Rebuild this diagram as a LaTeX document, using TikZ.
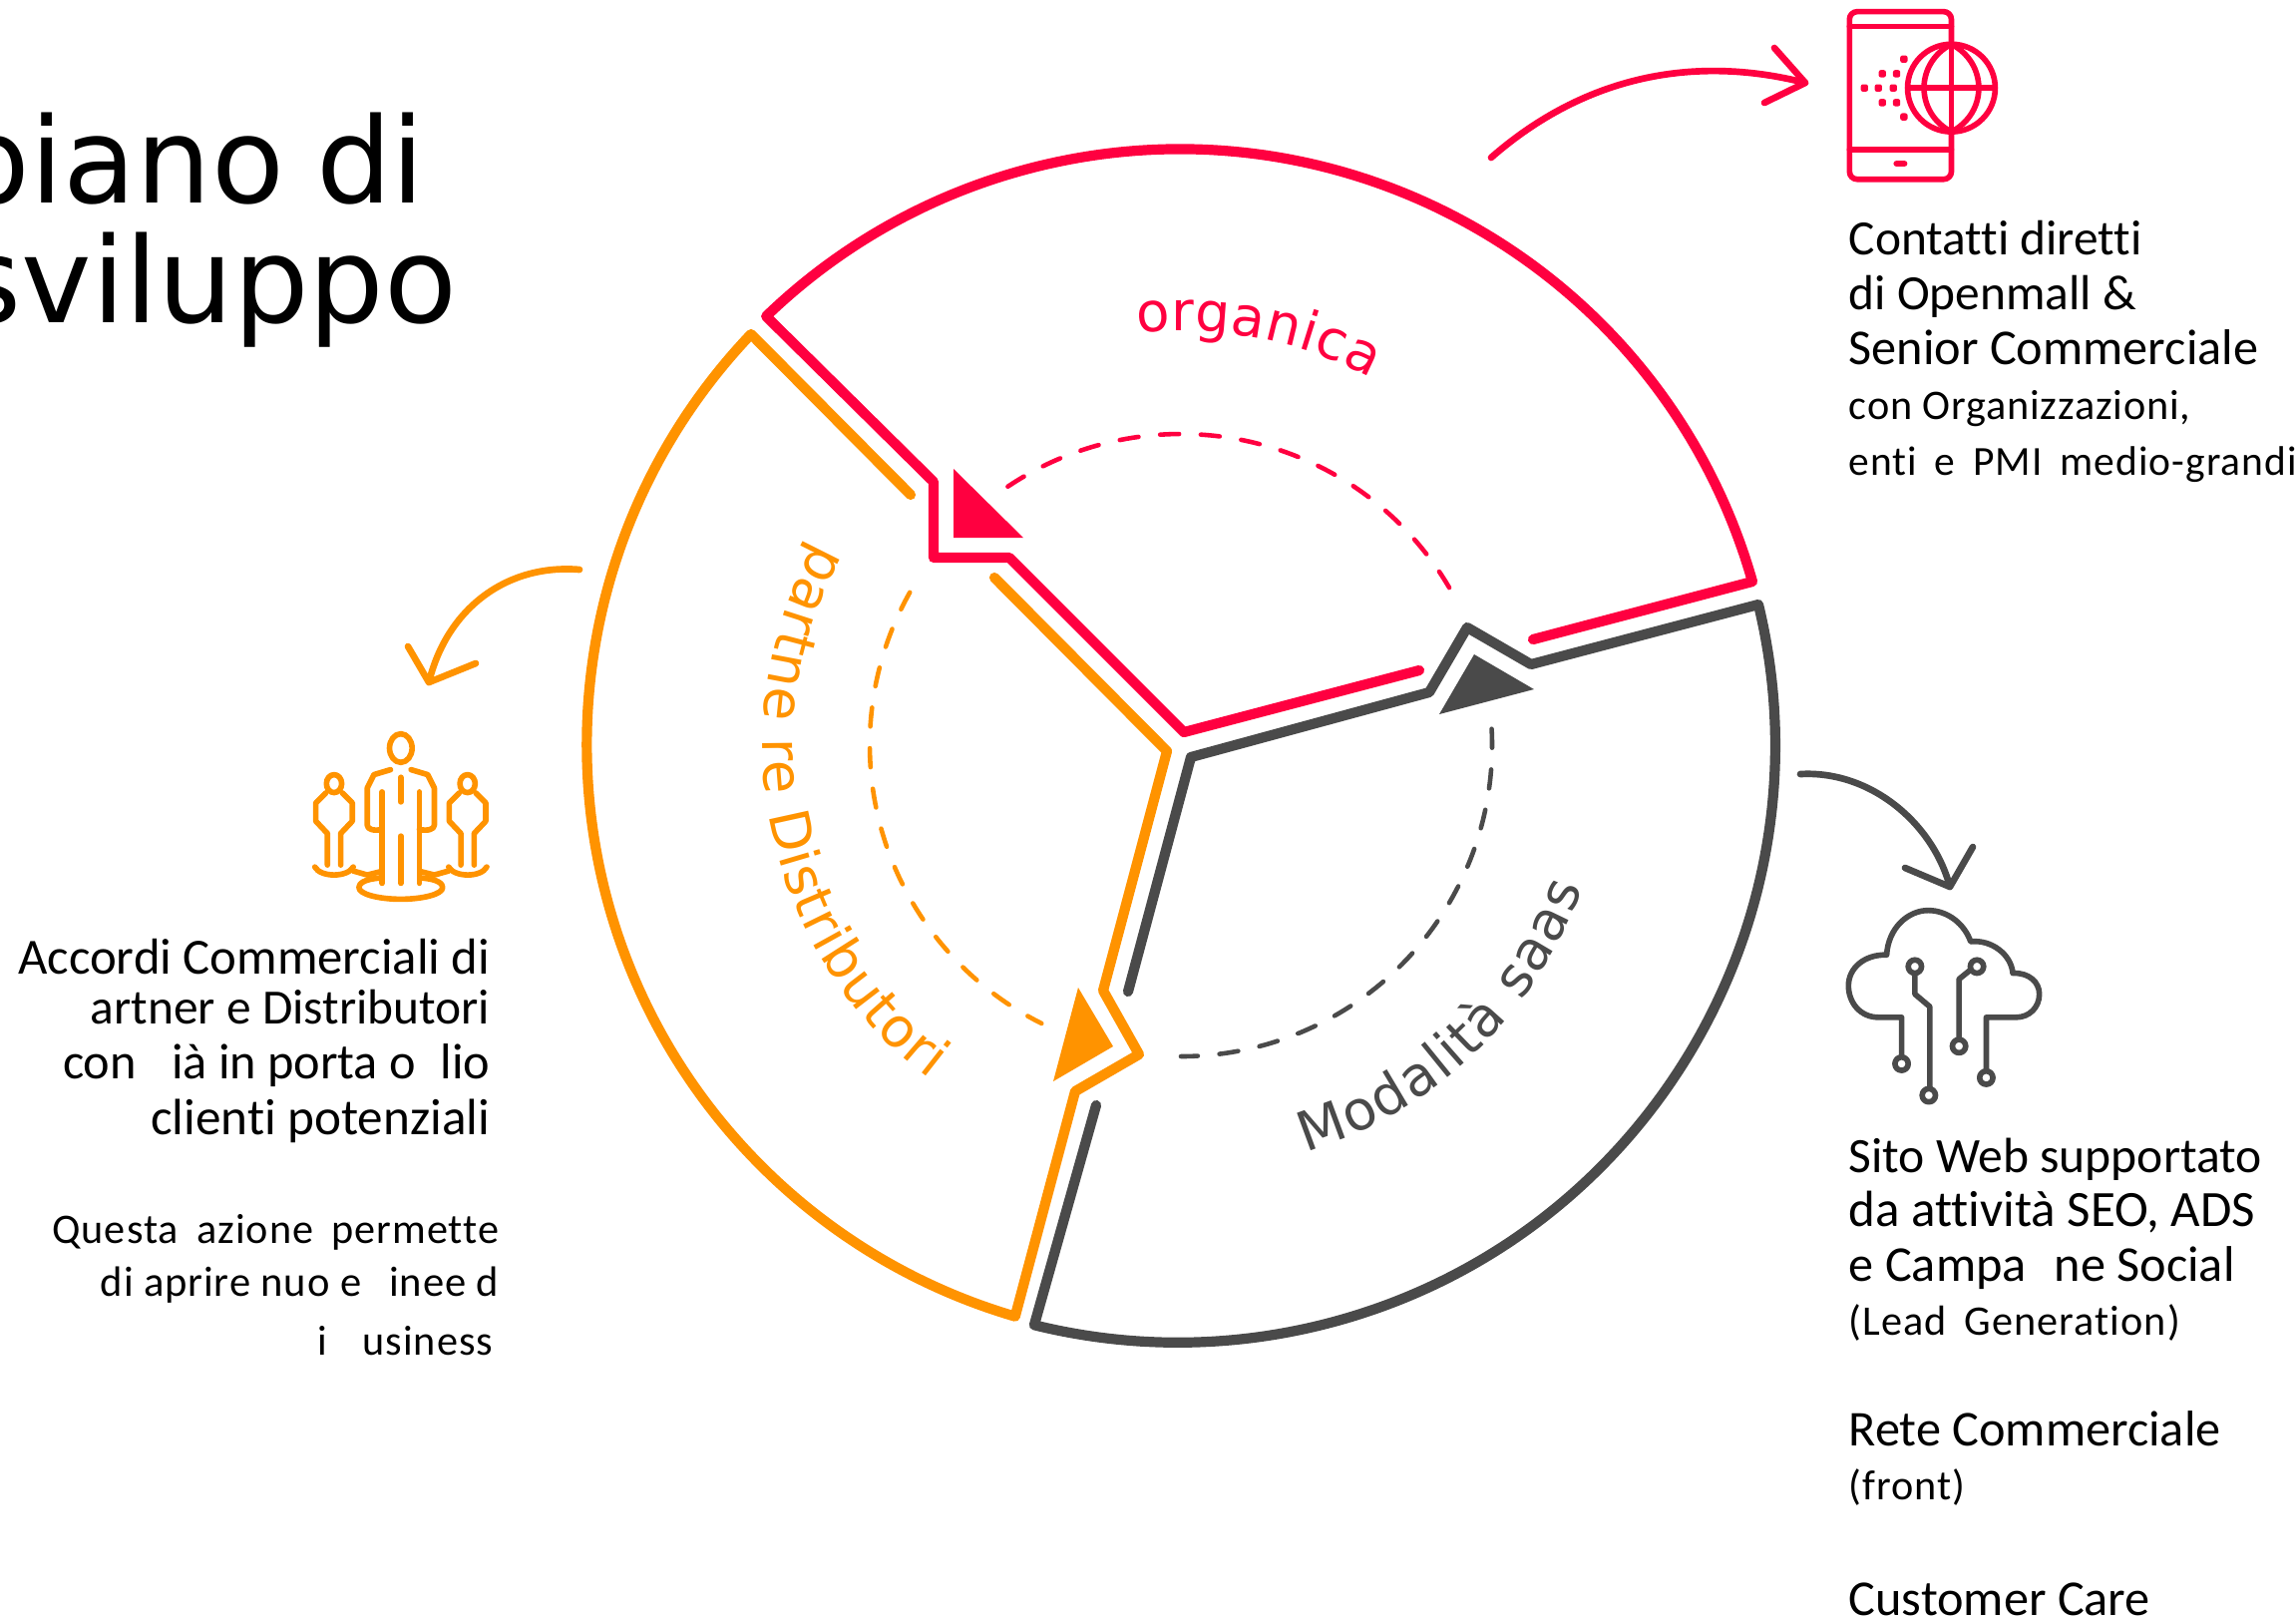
\documentclass[tikz,border=0pt]{standalone}
\usepackage{fontspec}
\usetikzlibrary{decorations.text,calc}
\setmainfont[Ligatures=NoCommon]{Carlito}
\newfontfamily\dejavu{DejaVu Sans}
\newfontfamily\carlsp[LetterSpace=2.5,WordSpace=1.7,Ligatures=NoCommon]{Carlito}
\newfontfamily\carltight[LetterSpace=2,WordSpace=1,Ligatures=NoCommon]{Carlito}
\definecolor{ored}{HTML}{FF0040}
\definecolor{oorange}{HTML}{FF9300}
\definecolor{ogray}{HTML}{4A4A4A}
\newcommand{\gapx}[1]{\hspace{#1pt}}
\newcommand{\bigsize}[1]{\fontsize{#1}{17}\selectfont}
\tikzset{
  sector/.style={line width=2.9pt,line join=round,line cap=round},
  dasharc/.style={line width=1.3pt,line cap=round,dash pattern=on 5.4pt off 6.2pt},
  sweep/.style={line width=1.9pt,line cap=round,line join=round},
  big/.style={inner sep=0pt,font=\bigsize{14.3},text=black},
  small/.style={inner sep=0pt,font=\carlsp\fontsize{12}{15}\selectfont,text=black},
  smalltight/.style={inner sep=0pt,font=\carltight\fontsize{12}{15}\selectfont,text=black},
  title/.style={inner sep=0pt,font=\dejavu\fontsize{33.9}{40}\selectfont,text=black},
  icon/.style={line width=1.6pt,line cap=round,line join=round},
  zoomed/.style={x=0.0033333cm,y=-0.0033333cm}
}
\begin{document}
\begin{tikzpicture}[x=0.01cm,y=-0.01cm]
\useasboundingbox (0,0) rectangle (2302,1623);
\coordinate (c) at (1184,747);
% Red sector
\draw[sector,ored] (1537,641) -- (1757,583) arc[start angle=-15.9,end angle=-134,radius=597] -- (936,483) -- (936,559) -- (1012,559) -- (1187,734) -- (1423,672);
% Orange sector
\draw[sector,oorange] (913,496) -- (753,335) arc[start angle=223.6,end angle=106.3,radius=597] -- (1078,1094) -- (1142,1057) -- (1106,993) -- (1170,753) -- (997,579);
% Gray sector
\draw[sector,ogray] (1131,994) -- (1194,759) -- (1433,694) -- (1471,629) -- (1535,666) -- (1763,606) arc[start angle=-13.6,end angle=103.9,radius=599] -- (1099,1108);
% Triangles
\fill[ored] (956,470) -- (956,539) -- (1026,539) -- cycle;
\fill[ogray] (1478,656) -- (1443,716) -- (1538,691) -- cycle;
\fill[oorange] (1081,990) -- (1116,1049) -- (1056,1084) -- cycle;
% Dashed arcs
\draw[dasharc,ored] ($(c)+(-123.8:312)$) arc[start angle=-123.8,end angle=-29.7,radius=312];
\draw[dasharc,oorange] ($(c)+(209.4:312)$) arc[start angle=209.4,end angle=116.6,radius=312];
\draw[dasharc,ogray] ($(c)+(-3:312)$) arc[start angle=-3,end angle=90,radius=312];
% Curved labels
\path[decorate,decoration={text along path,text align=fit to path,text={|\dejavu\fontsize{15.6}{18}\selectfont\color{ored}|organica}}] ($(c)+(-96:415)$) arc[start angle=-96,end angle=-62.6,radius=415];
\path[decorate,decoration={text along path,text align=fit to path,text={|\dejavu\fontsize{15.6}{18}\selectfont\color{ogray}|Modalità saas}}] ($(c)+(73:427)$) arc[start angle=73,end angle=19.5,radius=427];
\path[decorate,decoration={text along path,text align=fit to path,text={|\dejavu\fontsize{15.6}{18}\selectfont\color{oorange}|partne re Distributori}}] ($(c)+(209:419)$) arc[start angle=209,end angle=127,radius=419];
% Sweep arrows
\coordinate (rs) at (1495,158); \coordinate (rt) at (1810,83);
\coordinate (ra) at (1779,48); \coordinate (rb) at (1769,103);
\draw[sweep,ored] (rs) .. controls (1590,75) and (1700,55) .. (rt);
\draw[sweep,ored] (ra) -- (rt) -- (rb);
\coordinate (os) at (581,571); \coordinate (ot) at (430,684);
\coordinate (oa) at (409,648); \coordinate (ob) at (477,665);
\draw[sweep,oorange] (os) .. controls (508,565) and (448,610) .. (ot);
\draw[sweep,oorange] (oa) -- (ot) -- (ob);
\coordinate (gs) at (1805,776); \coordinate (gt) at (1955,889);
\coordinate (ga) at (1910,870); \coordinate (gb) at (1978,849);
\draw[sweep,ogray] (gs) .. controls (1875,772) and (1938,825) .. (gt);
\draw[sweep,ogray] (ga) -- (gt) -- (gb);
% Phone icon
\begin{scope}[shift={(1840,0)},zoomed,icon,ored]
\draw[rounded corners=2.2pt] (43,35) rectangle (350,540);
\draw (43,80) -- (350,80) (43,450) -- (350,450);
\draw[line width=1.8pt] (185,493) -- (208,493);
\draw[fill=white] (350,265) circle[radius=132];
\draw (350,133) -- (350,397) (218,265) -- (482,265);
\draw (350,133) .. controls (240,190) and (240,340) .. (350,397);
\draw (350,133) .. controls (460,190) and (460,340) .. (350,397);
\foreach \dx/\dy in {88/265,130/265,175/265,142/222,185/222,142/309,185/309,207/178,207/352}
  \fill[rounded corners=0.6pt] (\dx-11,\dy-11) rectangle (\dx+11,\dy+11);
\end{scope}
% People icon
\begin{scope}[shift={(300,720)},zoomed,icon,oorange]
\draw (306,90) ellipse[x radius=34,y radius=43];
\draw (275,155) -- (225,170) -- (205,210) -- (205,322) .. controls (205,335) and (225,340) .. (250,335);
\draw (337,155) -- (387,170) -- (407,210) -- (407,322) .. controls (407,335) and (387,340) .. (362,335);
\draw (250,222) -- (250,497) (362,222) -- (362,497);
\draw (306,178) -- (306,252) (306,355) -- (306,497);
\foreach \mx in {105,507}{
  \draw (\mx,197) ellipse[x radius=23,y radius=27];
  \draw (\mx-25,225) -- (\mx-55,255) -- (\mx-55,310) -- (\mx-20,347) -- (\mx-20,442);
  \draw (\mx+25,225) -- (\mx+55,255) -- (\mx+55,310) -- (\mx+20,347) -- (\mx+20,442);
}
\draw (47,448) .. controls (65,480) and (145,480) .. (163,448);
\draw (450,448) .. controls (468,480) and (548,480) .. (565,448);
\draw (163,460) -- (205,472) -- (245,462);
\draw (367,462) -- (407,472) -- (450,460);
\draw (245,481) .. controls (190,485) and (180,500) .. (180,510) .. controls (180,530) and (240,545) .. (306,545) .. controls (372,545) and (432,530) .. (432,510) .. controls (432,500) and (422,485) .. (367,481);
\end{scope}
% Cloud icon
\begin{scope}[shift={(1840,900)},zoomed,icon,ogray,line width=1.6pt]
\draw[line cap=butt] (200,482) -- (200,360) -- (130,360) .. controls (75,360) and (40,315) .. (40,265) .. controls (40,210) and (90,170) .. (155,172) .. controls (160,90) and (220,38) .. (280,38) .. controls (340,38) and (390,80) .. (408,132) .. controls (470,125) and (530,170) .. (535,227) .. controls (585,225) and (615,255) .. (615,290) .. controls (615,330) and (585,360) .. (545,360) -- (455,360) -- (455,520);
\draw[line cap=butt] (240,225) -- (240,290) -- (285,328) -- (285,575);
\draw[line cap=butt] (373,425) -- (373,245) -- (410,215);
\foreach \cx/\cy in {200/500,282/595,373/447,455/542,240/207,427/207}
  \draw (\cx,\cy) circle[radius=20];
\end{scope}
% Title
\node[title,anchor=base west] (t1) at (-46,203) {piano\hspace{9.1pt}di};
\node[title,anchor=base west] (t2) at (-41,323) {sviluppo};
% Right top text
\node[big,font=\bigsize{14.05},anchor=base west] (a1) at (1853,255) {Contatti diretti};
\node[big,font=\bigsize{14.05},anchor=base west] (a2) at (1853,310) {di Openmall \&};
\node[big,anchor=base west] (a3) at (1853,365) {Senior Commerciale};
\node[smalltight,anchor=base west] (a4) at (1853,420) {con Organizzazioni,};
\node[small,font=\carlsp\fontsize{11.8}{15}\selectfont,anchor=base west] (a5) at (1853,476) {enti e PMI medio-grandi};
% Left text
\node[big,font=\bigsize{14.43},anchor=base east] (b1) at (492,976) {Accordi Commerciali di};
\node[big,font=\bigsize{14.05},anchor=base east] (b2) at (492,1026) {artner e Distributori};
\node[big,anchor=base east] (b3) at (492,1081) {con\gapx{10}ià in porta o\gapx{7}lio};
\node[big,font=\bigsize{14.55},anchor=base east] (b4) at (492,1137) {clienti potenziali};
\node[small,anchor=base east] (b5) at (501,1246) {Questa azione permette};
\node[smalltight,font=\carltight\fontsize{12.1}{15}\selectfont,anchor=base east] (b6) at (501,1299) {di aprire nuo e\gapx{8}inee d};
\node[small,anchor=base east] (b7) at (495,1358) {i\gapx{10}usiness};
% Right bottom text
\node[big,font=\bigsize{14.1},anchor=base west] (d1) at (1853,1175) {Sito Web supportato};
\node[big,font=\bigsize{14.5},anchor=base west] (d2) at (1853,1229) {da attività SEO, ADS};
\node[big,anchor=base west] (d3) at (1853,1284) {e Campa\gapx{8}ne Social};
\node[small,anchor=base west] (d4) at (1853,1338) {(Lead Generation)};
\node[big,anchor=base west] (d5) at (1853,1449) {Rete Commerciale};
\node[small,anchor=base west] (d6) at (1853,1503) {(front)};
\node[big,anchor=base west] (d7) at (1853,1619) {Customer Care};
\end{tikzpicture}
\end{document}
